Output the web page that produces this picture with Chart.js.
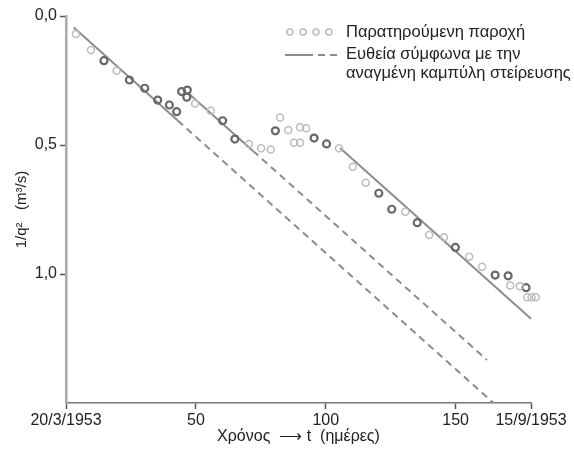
<!DOCTYPE html>
<html>
<head>
<meta charset="utf-8">
<script src="https://cdn.jsdelivr.net/npm/chart.js@4.4.1/dist/chart.umd.min.js"></script>
<style>
  html, body { margin: 0; padding: 0; background: #fff; }
  #wrap { width: 574px; height: 449px; }
</style>
</head>
<body>
<div id="wrap"><canvas id="recession"></canvas></div>
<script>
// observed discharge, plotted as 1/q^2 against days since 20/3/1953
// light circles
const lightDays = [3.8, 9.6, 19.5, 49.7, 55.7, 70.4, 75.1, 78.8, 82.4, 85.6, 90.1, 92.4, 87.8, 90.1,
                   105.1, 110.4, 115.4, 130.6, 139.8, 145.5, 155.2, 160.2, 171.0, 174.7, 177.6, 179.2, 180.8];
const lightQ    = [0.070, 0.132, 0.212, 0.339, 0.367, 0.496, 0.513, 0.517, 0.393, 0.442, 0.431, 0.435, 0.491, 0.491,
                   0.513, 0.584, 0.646, 0.759, 0.849, 0.858, 0.933, 0.972, 1.045, 1.047, 1.090, 1.090, 1.090];
// dark circles
const darkDays = [14.6, 24.4, 30.3, 35.3, 39.8, 42.6, 44.5, 46.7, 46.5, 60.3, 65.0, 80.6, 95.5, 100.3,
                  120.4, 125.4, 135.2, 149.9, 165.2, 170.2, 177.1];
const darkQ    = [0.173, 0.248, 0.280, 0.326, 0.345, 0.371, 0.293, 0.287, 0.315, 0.406, 0.477, 0.445, 0.473, 0.496,
                  0.687, 0.749, 0.801, 0.897, 1.004, 1.007, 1.053];

// recession lines: [startDay, startValue, endDay, endValue]
const solidSegments = [
  [3, 0.045, 43, 0.405],
  [47, 0.298, 72, 0.523],
  [105.5, 0.512, 179, 1.173]
];
const dashedSegments = [
  [43, 0.405, 164.6, 1.5],
  [72, 0.523, 162, 1.333]
];

const xTickDays = [0, 50, 100, 150, 179];
const xTickLabels = ['20/3/1953', '50', '100', '150', '15/9/1953'];
const yTickValues = [0, 0.5, 1.0];
const yTickLabels = ['0,0', '0,5', '1,0'];

const FONT = 'Liberation Sans, Arial, sans-serif';
const LIGHT = '#bcbcbc';
const DARK = '#686868';
const LINE = '#8c8c8c';

function toPoints(xs, ys) {
  return xs.map((x, i) => ({ x: x, y: ys[i] }));
}

function segmentDataset(seg, dashed) {
  return {
    type: 'line',
    data: [{ x: seg[0], y: seg[1] }, { x: seg[2], y: seg[3] }],
    borderColor: LINE,
    borderWidth: 2,
    borderDash: dashed ? [7, 5] : [],
    pointRadius: 0,
    fill: false,
    clip: 10
  };
}

// small legend in the upper right corner of the plot
const cornerLegend = {
  id: 'cornerLegend',
  afterDatasetsDraw(chart) {
    const ctx = chart.ctx;
    ctx.save();
    ctx.strokeStyle = LIGHT;
    ctx.lineWidth = 1.5;
    [290, 303, 316, 329].forEach(cx => {
      ctx.beginPath();
      ctx.arc(cx, 32, 3, 0, Math.PI * 2);
      ctx.stroke();
    });
    ctx.strokeStyle = LINE;
    ctx.lineWidth = 2;
    ctx.beginPath();
    ctx.moveTo(285, 55);
    ctx.lineTo(313, 55);
    ctx.moveTo(318, 55);
    ctx.lineTo(325, 55);
    ctx.moveTo(330, 55);
    ctx.lineTo(337, 55);
    ctx.stroke();

    ctx.fillStyle = '#222';
    ctx.font = '16.5px ' + FONT;
    ctx.textBaseline = 'middle';
    ctx.fillText('Παρατηρούμενη παροχή', 346, 32);
    ctx.fillText('Ευθεία σύμφωνα με την', 346, 54);
    ctx.fillText('αναγμένη καμπύλη στείρευσης', 346, 73);
    ctx.restore();
  }
};

const datasets = [
  {
    type: 'scatter',
    data: toPoints(lightDays, lightQ),
    borderColor: LIGHT,
    backgroundColor: 'rgba(0,0,0,0)',
    borderWidth: 1.5,
    pointRadius: 3.5,
    clip: 10
  },
  {
    type: 'scatter',
    data: toPoints(darkDays, darkQ),
    borderColor: DARK,
    backgroundColor: 'rgba(0,0,0,0)',
    borderWidth: 2.2,
    pointRadius: 3.5,
    clip: 10
  }
];
solidSegments.forEach(s => datasets.push(segmentDataset(s, false)));
dashedSegments.forEach(s => datasets.push(segmentDataset(s, true)));

new Chart(document.getElementById('recession'), {
  type: 'scatter',
  data: { datasets: datasets },
  plugins: [cornerLegend],
  options: {
    responsive: true,
    maintainAspectRatio: false,
    animation: false,
    layout: { padding: { left: 0, right: 43, top: 16, bottom: 0 } },
    plugins: {
      legend: { display: false },
      tooltip: { enabled: false }
    },
    scales: {
      x: {
        type: 'linear',
        min: 0,
        max: 179,
        afterBuildTicks: scale => { scale.ticks = xTickDays.map(v => ({ value: v })); },
        afterFit: scale => { scale.height = 46; },
        ticks: {
          color: '#222',
          font: { family: FONT, size: 16 },
          padding: 2,
          maxRotation: 0,
          autoSkip: false,
          callback: v => xTickLabels[xTickDays.indexOf(v)]
        },
        grid: { drawOnChartArea: false, tickLength: 6, tickColor: '#555', tickWidth: 1.5 },
        border: { color: '#777', width: 1.5 },
        title: {
          display: true,
          text: 'Χρόνος  ⟶ t  (ημέρες)',
          color: '#222',
          font: { family: FONT, size: 16 },
          padding: { top: 0, bottom: 3 }
        }
      },
      y: {
        type: 'linear',
        reverse: true,
        min: 0,
        max: 1.5,
        afterBuildTicks: scale => { scale.ticks = yTickValues.map(v => ({ value: v })); },
        afterFit: scale => { scale.width = 66; },
        ticks: {
          color: '#222',
          font: { family: FONT, size: 16 },
          padding: 3,
          callback: v => yTickLabels[yTickValues.indexOf(v)]
        },
        grid: { drawOnChartArea: false, tickLength: 6, tickColor: '#555', tickWidth: 1.5 },
        border: { color: '#aaa', width: 2.5 },
        title: {
          display: true,
          text: '1/q²   (m³/s)',
          color: '#222',
          font: { family: FONT, size: 15 },
          padding: { top: 13, bottom: 0 }
        }
      }
    }
  }
});
</script>
</body>
</html>
